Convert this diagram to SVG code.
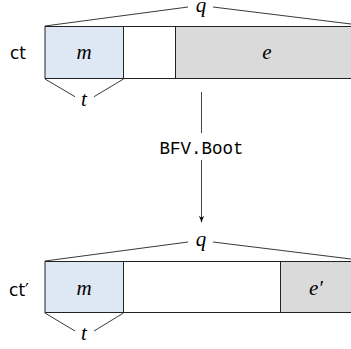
<svg xmlns="http://www.w3.org/2000/svg" width="351" height="349" viewBox="0 0 351 349">
<defs>
<style>
.lbl{font-family:"DejaVu Sans","Liberation Sans",sans-serif;font-size:17px;fill:#000}
.math{font-family:"Liberation Serif","DejaVu Serif",serif;font-style:italic;font-size:21px;fill:#000}
.mono{font-family:"Liberation Mono","DejaVu Sans Mono",monospace;font-size:17.5px;fill:#000}
.box{stroke:#222;stroke-width:1;fill:none}
.br{stroke:#222;stroke-width:0.9;fill:none}
.blue{fill:#dee8f4}
.gray{fill:#dadada}
</style>
<marker id="ah" viewBox="0 0 10 10" refX="9" refY="5" markerWidth="7" markerHeight="7" orient="auto" markerUnits="userSpaceOnUse">
<path d="M0,1 Q5,4 10,5 Q5,6 0,9 L3,5 Z" fill="#000"/>
</marker>
</defs>
<g id="ct">
<text class="lbl" x="18" y="59" text-anchor="middle">ct</text>
<rect class="blue" x="45" y="26.5" width="78.5" height="52"/>
<rect class="gray" x="175.5" y="26.5" width="176" height="52"/>
<rect class="box" x="45" y="26.5" width="310" height="52"/>
<line class="box" x1="123.5" y1="26.5" x2="123.5" y2="78.5"/>
<line class="box" x1="175.5" y1="26.5" x2="175.5" y2="78.5"/>
<text class="math" x="84" y="58.5" text-anchor="middle">m</text>
<text class="math" x="267" y="58.5" text-anchor="middle">e</text>
<path class="br" d="M45,26 L188,7 M213,7 L351,24"/>
<text class="math" x="201" y="12" text-anchor="middle">q</text>
<path class="br" d="M45,79 L75,96.7 M94,96.7 L123.5,79"/>
<text class="math" x="84" y="106" text-anchor="middle">t</text>
</g>
<g id="ct2">
<text class="lbl" x="19" y="296" text-anchor="middle">ct′</text>
<rect class="blue" x="45" y="261.5" width="78.5" height="51"/>
<rect class="gray" x="280.5" y="261.5" width="71" height="51"/>
<rect class="box" x="45" y="261.5" width="310" height="51"/>
<line class="box" x1="123.5" y1="261.5" x2="123.5" y2="312.5"/>
<line class="box" x1="280.5" y1="261.5" x2="280.5" y2="312.5"/>
<text class="math" x="84" y="295" text-anchor="middle">m</text>
<text class="math" x="316" y="295" text-anchor="middle">e′</text>
<path class="br" d="M45,261 L188,242 M213,242 L351,259"/>
<text class="math" x="201" y="246" text-anchor="middle">q</text>
<path class="br" d="M45,313 L75,331 M94,331 L123.5,313"/>
<text class="math" x="84" y="340" text-anchor="middle">t</text>
</g>
<g id="connectors">
<line x1="201.5" y1="92" x2="201.5" y2="133" stroke="#444" stroke-width="1"/>
<line x1="201.5" y1="160" x2="201.5" y2="222" stroke="#444" stroke-width="1" marker-end="url(#ah)"/>
<text class="mono" x="201.5" y="154" text-anchor="middle">BFV.Boot</text>
</g>
</svg>
